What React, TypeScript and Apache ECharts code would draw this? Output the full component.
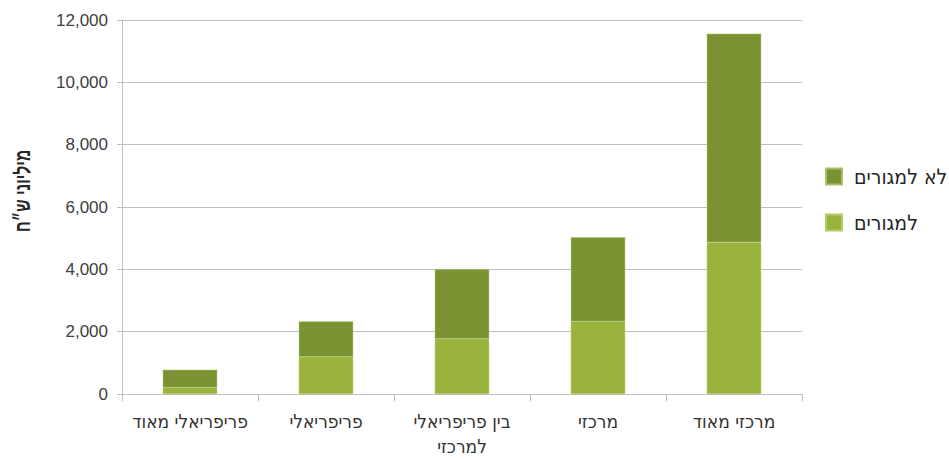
import React, { useEffect, useRef } from "react";
import * as echarts from "echarts";

const categories = ["פריפריאלי מאוד", "פריפריאלי", "בין פריפריאלי\nלמרכזי", "מרכזי", "מרכזי מאוד"];
const residential = [210, 1195, 1775, 2330, 4870];
const nonResidential = [568, 1135, 2225, 2700, 6690];
const seriesNames = ["למגורים", "לא למגורים"];
const yAxisTitle = "מיליוני ש״ח";

export default function App() {
  const ref = useRef<HTMLDivElement>(null);
  useEffect(() => {
    if (!ref.current) return;
    const chart = echarts.init(ref.current, null, { renderer: "svg" });
    const narrow = "'Liberation Sans Narrow', 'Arial Narrow', 'DejaVu Sans Condensed', sans-serif";
    chart.setOption({
      animation: false,
      backgroundColor: "#ffffff",
      grid: { left: 122, right: 147, top: 20, bottom: 65, containLabel: false },
      legend: {
        orient: "vertical",
        left: 820,
        top: 161,
        itemWidth: 16,
        itemHeight: 16,
        itemGap: 25,
        icon: "rect",
        data: [seriesNames[1], seriesNames[0]],
        textStyle: { fontFamily: narrow, fontSize: 21, color: "#262626", padding: [0, 0, 0, 7] },
      },
      xAxis: {
        type: "category",
        data: categories,
        axisLine: { lineStyle: { color: "#bfbfbf", width: 1 } },
        axisTick: { show: true, length: 7, alignWithLabel: false, lineStyle: { color: "#bfbfbf" } },
        axisLabel: {
          fontFamily: narrow,
          fontSize: 19,
          color: "#333333",
          margin: 14,
          lineHeight: 25,
          interval: 0,
        },
      },
      yAxis: {
        type: "value",
        min: 0,
        max: 12000,
        interval: 2000,
        axisLine: { show: true, lineStyle: { color: "#bfbfbf", width: 1 } },
        axisTick: { show: true, length: 5, lineStyle: { color: "#bfbfbf" } },
        splitLine: { lineStyle: { color: "#bfbfbf", width: 1 } },
        axisLabel: {
          fontFamily: "'Liberation Sans', Arial, sans-serif",
          fontSize: 17,
          color: "#404040",
          margin: 14,
          formatter: (v: number) => v.toLocaleString("en-US"),
        },
      },
      graphic: [
        {
          type: "text",
          x: 22,
          y: 191,
          rotation: Math.PI / 2,
          scaleX: 0.7,
          style: {
            text: yAxisTitle,
            font: "bold 22px 'Liberation Sans', Arial, sans-serif",
            fill: "#262626",
            textAlign: "center",
            textVerticalAlign: "middle",
          },
        },
      ],
      series: [
        {
          name: seriesNames[0],
          type: "bar",
          stack: "total",
          barWidth: "40%",
          data: residential,
          itemStyle: { color: "#99b23c", borderColor: "#b5cc6a", borderWidth: 0.5 },
        },
        {
          name: seriesNames[1],
          type: "bar",
          stack: "total",
          barWidth: "40%",
          data: nonResidential,
          itemStyle: { color: "#7a9232", borderColor: "#a9c06a", borderWidth: 0.5 },
        },
      ],
    });
    return () => chart.dispose();
  }, []);
  return <div ref={ref} style={{ width: 949, height: 459, position: "absolute", left: 0, top: 0 }} />;
}
